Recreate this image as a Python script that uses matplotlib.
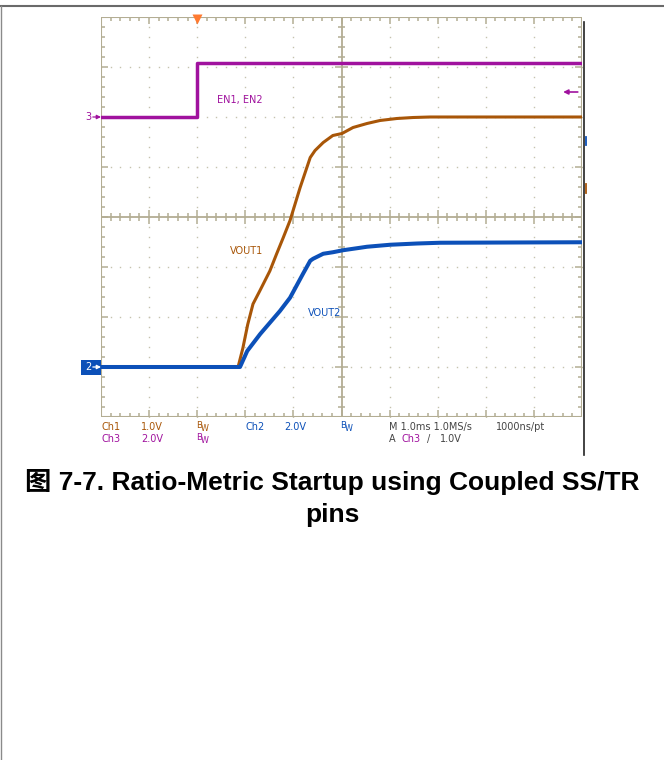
import numpy as np
import matplotlib.pyplot as plt
from matplotlib.patches import Rectangle
from matplotlib.collections import LineCollection

# scope setup: 1 ms/div, trigger 2 div from the left edge
time_per_div = 1.0
t_start, t_end = -2.0, 8.0
ch1_scale, ch1_offset = 1.0, -3.0   # V/div, ground level in div
ch2_scale, ch2_offset = 2.0, -3.0
ch3_scale, ch3_offset = 2.0, 2.0
trigger_level = 1.0                 # V on Ch3

# EN1, EN2 (Ch3)
en_t = [-2.0, 0.0, 0.0, 8.0]
en_v = [0.0, 0.0, 2.15, 2.15]

# VOUT1 (Ch1)
vout1_t = [-2.0, 0.85, 0.95, 1.05, 1.16, 1.30, 1.51, 1.65, 1.79, 1.93, 2.14, 2.35, 2.45,
           2.62, 2.82, 3.01, 3.24, 3.53, 3.80, 4.15, 4.49, 4.84, 8.0]
vout1_v = [0.0, 0.0, 0.38, 0.85, 1.26, 1.52, 1.92, 2.26, 2.59, 2.93, 3.59, 4.19, 4.33,
           4.49, 4.63, 4.67, 4.79, 4.87, 4.93, 4.97, 4.99, 5.0, 5.0]

# VOUT2 (Ch2)
vout2_t = [-2.0, 0.89, 1.04, 1.31, 1.72, 1.93, 2.20, 2.35, 2.41, 2.62, 2.82,
           3.03, 3.39, 3.53, 4.01, 4.57, 5.05, 8.0]
vout2_v = [0.0, 0.0, 0.64, 1.32, 2.24, 2.77, 3.73, 4.25, 4.33, 4.53, 4.59,
           4.67, 4.77, 4.81, 4.89, 4.94, 4.97, 4.99]

purple = '#a0129e'
brown = '#a85608'
blue = '#0c50b8'
grid_c = '#b3ad93'
dot_c = '#c6c2ae'
W, H = 664, 760


def fx(px):
    return px / W


def fy(py):
    return 1 - py / H


fig = plt.figure(figsize=(W / 100, H / 100), dpi=100)
ax = fig.add_axes([fx(101), fy(417), fx(582) - fx(101), fy(17) - fy(417)])
ax.set_xlim(t_start, t_end)
ax.set_ylim(-4, 4)
ax.axis('off')

# dotted division lines
steps = np.arange(0, 41) * 0.2
for i in range(1, 10):
    if i == 5:
        continue
    x = t_start + i
    ax.plot(np.full(41, x), -4 + steps, ls='none', marker='s', ms=1.0, color=dot_c, mec='none')
for j in range(1, 8):
    if j == 4:
        continue
    y = -4 + j
    xs = t_start + np.arange(0, 51) * 0.2
    ax.plot(xs, np.full(51, y), ls='none', marker='s', ms=1.0, color=dot_c, mec='none')

# border and centre crosshair with tick marks
ax.add_patch(Rectangle((t_start, -4), 10, 8, fill=False, ec=grid_c, lw=1.5, zorder=2))
ax.plot([3, 3], [-4, 4], color=grid_c, lw=1.3, zorder=2)
ax.plot([t_start, t_end], [0, 0], color=grid_c, lw=1.3, zorder=2)

segs = []
for k in range(1, 50):
    x = t_start + k * 0.2
    major = k % 5 == 0
    L = 0.14 if major else 0.08
    segs.append([(x, 4), (x, 4 - L)])
    segs.append([(x, -4), (x, -4 + L)])
    segs.append([(x, -L), (x, L)])
for k in range(1, 40):
    y = -4 + k * 0.2
    major = k % 5 == 0
    L = 0.14 if major else 0.08
    segs.append([(t_start, y), (t_start + L, y)])
    segs.append([(t_end, y), (t_end - L, y)])
    segs.append([(3 - L, y), (3 + L, y)])
ax.add_collection(LineCollection(segs, colors=grid_c, linewidths=1.1, zorder=2))

# traces
en_y = [ch3_offset + v / ch3_scale for v in en_v]
v1_y = [ch1_offset + v / ch1_scale for v in vout1_v]
v2_y = [ch2_offset + v / ch2_scale for v in vout2_v]
ax.plot(vout1_t, v1_y, color=brown, lw=2.2, zorder=4, solid_joinstyle='round')
ax.plot(vout2_t, v2_y, color=blue, lw=2.9, zorder=5, solid_joinstyle='round')
ax.plot(en_t, en_y, color=purple, lw=2.5, zorder=6)

# trace labels
ax.text(0.41, 2.33, 'EN1, EN2', color=purple, fontsize=7, va='center')
ax.text(0.68, -0.67, 'VOUT1', color=brown, fontsize=7, va='center')
ax.text(2.30, -1.91, 'VOUT2', color=blue, fontsize=7, va='center')

# trigger position and level markers
ax.plot([0], [3.96], marker='v', ms=7, color='#ff7a30', mec='none', clip_on=False, zorder=7)
trig_y = ch3_offset + trigger_level / ch3_scale
ax.annotate('', xy=(7.55, trig_y), xytext=(7.97, trig_y),
            arrowprops=dict(arrowstyle='-|>', color=purple, lw=1.2, mutation_scale=7))

# channel ground markers
arrow_kw = dict(arrowstyle='-|>', lw=0.9, mutation_scale=6, shrinkA=0, shrinkB=0)
ax.annotate('', xy=(t_start, ch3_offset), xytext=(t_start - 0.17, ch3_offset),
            arrowprops=dict(color=purple, **arrow_kw), annotation_clip=False)
ax.text(t_start - 0.2, ch3_offset, '3', color=purple, fontsize=7, ha='right', va='center')
ax.add_patch(Rectangle((t_start - 0.42, ch2_offset - 0.15), 0.42, 0.3, fc=blue, ec='none',
                       clip_on=False, zorder=6))
ax.text(t_start - 0.27, ch2_offset, '2', color='white', fontsize=7, ha='center', va='center', zorder=7)
ax.annotate('', xy=(t_start, ch2_offset), xytext=(t_start - 0.17, ch2_offset),
            arrowprops=dict(color='white', **arrow_kw), annotation_clip=False, zorder=7)

# status rows under the screen
fs = 7
row1, row2 = fy(427), fy(439)
status = [
    (101, row1, 'Ch1', brown), (141, row1, '1.0V', brown),
    (246, row1, 'Ch2', blue), (284, row1, '2.0V', blue),
    (389, row1, 'M 1.0ms 1.0MS/s', '#444444'), (496, row1, '1000ns/pt', '#444444'),
    (101, row2, 'Ch3', purple), (141, row2, '2.0V', purple),
    (389, row2, 'A', '#444444'), (402, row2, 'Ch3', purple), (427, row2, '/', '#444444'),
    (440, row2, '1.0V', '#444444'),
]
for px, y, s, c in status:
    fig.text(fx(px), y, s, color=c, fontsize=fs, va='center', ha='left')

# bandwidth-limit flags: small B with a lowered w
for px, y, c in [(196, row1, brown), (340, row1, blue), (196, row2, purple)]:
    fig.text(fx(px), y + 1.5 / H, 'B', color=c, fontsize=6.3, va='center', ha='left')
    fig.text(fx(px + 5), y - 1.5 / H, 'W', color=c, fontsize=5.8, va='center', ha='left')

# page frame and screenshot edge
fig.add_artist(plt.Line2D([0, 1], [fy(5.5), fy(5.5)], color='#6a6a6a', lw=1.5))
fig.add_artist(plt.Line2D([fx(0.8), fx(0.8)], [fy(5.5), 0], color='#8a8a8a', lw=1.0))
fig.add_artist(plt.Line2D([fx(583.5), fx(583.5)], [fy(22), fy(455)], color='#222222', lw=1.2))
fig.add_artist(plt.Line2D([fx(585.5), fx(585.5)], [fy(137), fy(145)], color=blue, lw=1.3))
fig.add_artist(plt.Line2D([fx(585.5), fx(585.5)], [fy(184), fy(193)], color=brown, lw=1.3))

# caption
cap_font = ['Liberation Sans', 'Noto Sans CJK SC']
fig.text(0.5, fy(482), '图 7-7. Ratio-Metric Startup using Coupled SS/TR', ha='center', va='center',
         fontsize=19, fontweight='bold', family=cap_font)
fig.text(0.5, fy(515), 'pins', ha='center', va='center', fontsize=19, fontweight='bold', family=cap_font)

fig.savefig('out.png', dpi=100)
